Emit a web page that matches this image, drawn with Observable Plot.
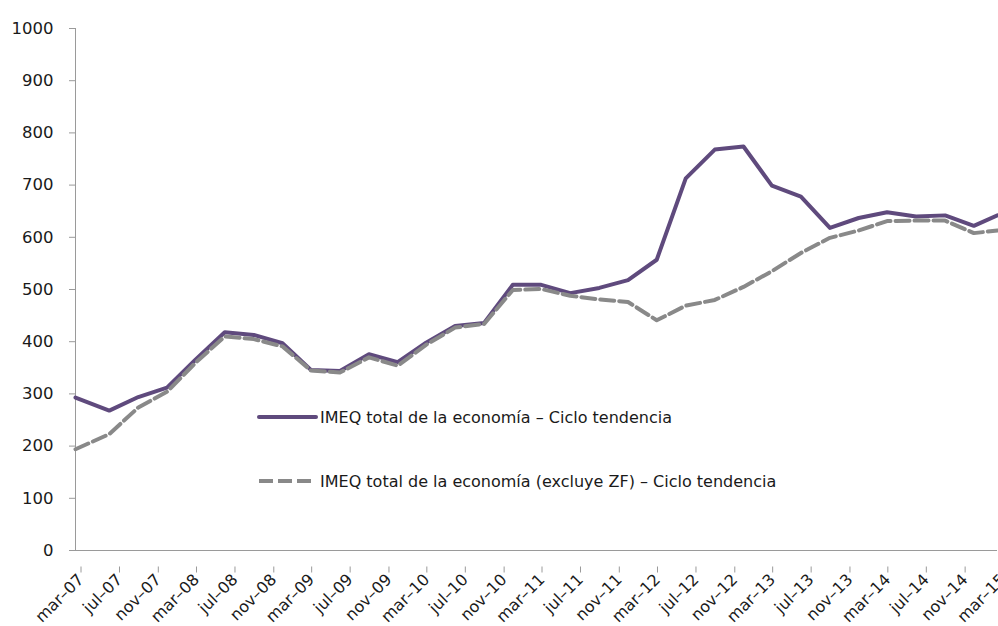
<!DOCTYPE html>
<html><head><meta charset="utf-8">
<script src="https://cdn.jsdelivr.net/npm/d3@7"></script>
<script src="https://cdn.jsdelivr.net/npm/@observablehq/plot@0.6"></script>
<style>body{margin:0;background:#fff;} #chart{position:relative;width:998px;height:626px;overflow:hidden;}</style>
</head><body><div id="chart"></div>
<script>
const dates = ["2007-03-01","2007-06-16","2007-09-16","2007-12-16","2008-03-16","2008-06-16","2008-09-16","2008-12-16","2009-03-16","2009-06-16","2009-09-16","2009-12-16","2010-03-16","2010-06-16","2010-09-16","2010-12-16","2011-03-16","2011-06-16","2011-09-16","2011-12-16","2012-03-16","2012-06-16","2012-09-16","2012-12-16","2013-03-16","2013-06-16","2013-09-16","2013-12-16","2014-03-16","2014-06-16","2014-09-16","2014-12-16","2015-03-01"];
const totalValues = [293,268,294,312,366,418,413,397,346,344,376,361,398,430,436,509,509,493,503,518,557,713,768,774,699,678,618,637,648,640,642,622,642];
const exclZFValues = [194,223,274,304,360,410,405,391,345,341,370,354,394,427,434,499,501,488,481,476,441,469,480,505,535,570,599,613,631,632,632,608,613];
const seriesNames = ["IMEQ total de la economía – Ciclo tendencia","IMEQ total de la economía (excluye ZF) – Ciclo tendencia"];
const tickLabels = ["mar-07","jul-07","nov-07","mar-08","jul-08","nov-08","mar-09","jul-09","nov-09","mar-10","jul-10","nov-10","mar-11","jul-11","nov-11","mar-12","jul-12","nov-12","mar-13","jul-13","nov-13","mar-14","jul-14","nov-14","mar-15"];
const yTicks = [0,100,200,300,400,500,600,700,800,900,1000];

const parse = d3.utcParse("%Y-%m-%d");
const data = dates.map((d,i)=>({date: parse(d), total: totalValues[i], excl: exclZFValues[i]}));
const monthIdx = {mar:2, jul:6, nov:10};
const tickDates = tickLabels.map(s=>{const [m,y]=s.split("-"); return new Date(Date.UTC(2000 + +y, monthIdx[m], 1));});
const fmt = new Map(tickDates.map((d,i)=>[+d, tickLabels[i].replace("-", "–")]));

const axisColor = "#9a9a9a";
const purple = "#5f4a7d";
const gray = "#898989";

const plot = Plot.plot({
  width: 998, height: 626,
  marginLeft: 75, marginRight: 1, marginTop: 28, marginBottom: 76,
  style: {fontFamily: "'DejaVu Sans', sans-serif", fontSize: "16px", color: "#1a1a1a", background: "#fff", overflow: "visible"},
  x: {type: "utc", domain: [tickDates[0], tickDates[tickDates.length-1]]},
  y: {domain: [0, 1000]},
  marks: [
    Plot.ruleX([tickDates[0]], {stroke: axisColor}),
    Plot.ruleY([0], {stroke: axisColor}),
    Plot.axisY({ticks: yTicks, tickFormat: d => String(d), tickSize: 6, tickPadding: 16, stroke: axisColor, fill: "#1a1a1a", label: null, fontSize: 16.5}),
    Plot.axisX({ticks: tickDates, tickFormat: d => fmt.get(+d), tickRotate: -45, tickSize: 6, tickPadding: 4, dx: 5.5, dy: 16.5, stroke: axisColor, fill: "#1a1a1a", label: null, fontSize: 16}),
    Plot.line(data, {x: "date", y: "total", stroke: purple, strokeWidth: 4, strokeLinejoin: "round"}),
    Plot.line(data, {x: "date", y: "excl", stroke: gray, strokeWidth: 4, strokeDasharray: "14,5"})
  ]
});
document.getElementById("chart").appendChild(plot);

// legend (inside plot area)
const svg = d3.select(plot);
const lg = svg.append("g").attr("font-family", "'DejaVu Sans', sans-serif").attr("font-size", 16).attr("fill", "#1a1a1a").attr("text-anchor", "start");
const items = [{name: seriesNames[0], color: purple, dash: null, y: 417},
               {name: seriesNames[1], color: gray, dash: "14,5", y: 481}];
items.forEach(it => {
  const ln = lg.append("line").attr("x1", 259).attr("x2", 316).attr("y1", it.y).attr("y2", it.y)
    .attr("stroke", it.color).attr("stroke-width", 4);
  if (it.dash) ln.attr("stroke-dasharray", it.dash); else ln.attr("stroke-linecap", "round");
  lg.append("text").attr("x", 320).attr("y", it.y).attr("dy", "0.35em").attr("text-anchor", "start").text(it.name);
});
</script>
</body></html>
